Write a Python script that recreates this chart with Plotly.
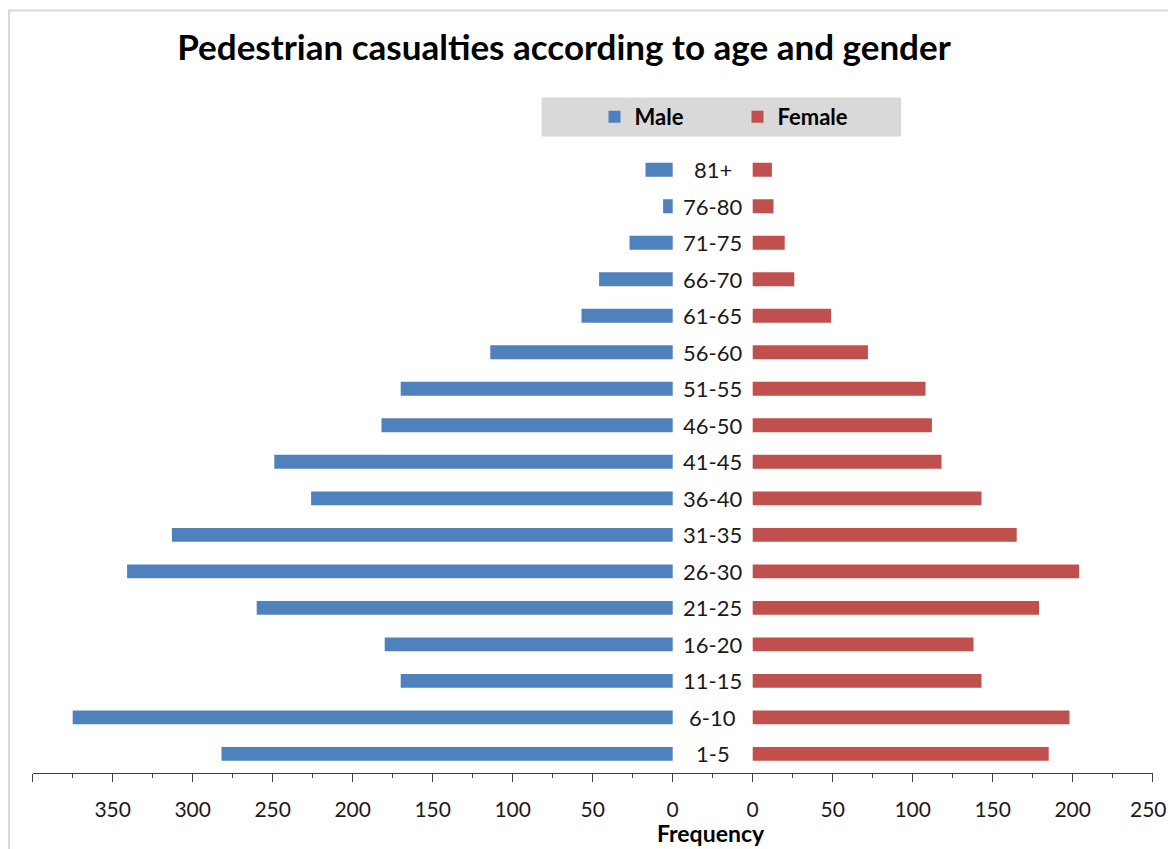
import plotly.graph_objects as go

# Age bands, bottom to top
age_groups = ["1-5", "6-10", "11-15", "16-20", "21-25", "26-30", "31-35", "36-40",
              "41-45", "46-50", "51-55", "56-60", "61-65", "66-70", "71-75", "76-80", "81+"]
male = [282, 375, 170, 180, 260, 341, 313, 226, 249, 182, 170, 114, 57, 46, 27, 6, 17]
female = [185, 198, 143, 138, 179, 204, 165, 143, 118, 112, 108, 72, 49, 26, 20, 13, 12]

male_ticks = [0, 50, 100, 150, 200, 250, 300, 350, 400]
male_ticktext = ["0", "50", "100", "150", "200", "250", "300", "350", ""]
female_ticks = [0, 50, 100, 150, 200, 250]
# the last female tick label sits at the figure's right edge and is drawn separately
female_ticktext = ["0", "50", "100", "150", "200", ""]

BLUE = "#4f81bd"
RED = "#c0504d"
AXIS = "#404040"
FONT = "Lato"
TICK_FONT = dict(family=FONT, size=21, color="#1a1a1a")

W, H = 1168, 849
px = lambda v: v / W
py = lambda v: 1 - v / H

fig = go.Figure()
fig.add_trace(go.Bar(
    x=male, y=age_groups, orientation="h", name="Male",
    marker=dict(color=BLUE, line=dict(width=0)), width=0.38,
    xaxis="x", yaxis="y", hoverinfo="x+y",
))
fig.add_trace(go.Bar(
    x=female, y=age_groups, orientation="h", name="Female",
    marker=dict(color=RED, line=dict(width=0)), width=0.38,
    xaxis="x2", yaxis="y2", hoverinfo="x+y",
))

x_common = dict(
    showline=True, linecolor=AXIS, linewidth=1,
    ticks="outside", ticklen=8, tickwidth=1, tickcolor=AXIS,
    showgrid=False, zeroline=False, automargin=False,
    tickfont=TICK_FONT,
    ticklabelstandoff=10, ticklabeloverflow="allow",
    minor=dict(dtick=25, tick0=0, ticks="outside", ticklen=4, tickcolor=AXIS, showgrid=False),
    fixedrange=True,
)
y_common = dict(
    type="category", categoryorder="array", categoryarray=age_groups,
    range=[-0.515, 16.6], domain=[py(772.7), py(147.8)],
    showticklabels=False, showline=False, showgrid=False, zeroline=False, ticks="",
    automargin=False, fixedrange=True,
)

fig.update_layout(
    width=W, height=H,
    margin=dict(l=0, r=0, t=0, b=0, autoexpand=False),
    paper_bgcolor="white", plot_bgcolor="white",
    showlegend=True,
    xaxis=dict(domain=[px(32.7), px(712.7)], range=[400, -25],
               tickmode="array", tickvals=male_ticks, ticktext=male_ticktext, **x_common),
    xaxis2=dict(domain=[px(712.7), px(1152.7)], range=[-25, 250],
                tickmode="array", tickvals=female_ticks, ticktext=female_ticktext, **x_common),
    yaxis=dict(anchor="x", **y_common),
    yaxis2=dict(anchor="x2", **y_common),
    title=dict(
        text="Pedestrian casualties according to age and gender",
        x=px(564), xanchor="center", y=py(48), yanchor="middle", yref="container",
        font=dict(family=FONT, size=35, color="black", weight="bold"),
    ),
    legend=dict(
        orientation="h", x=px(594.5), xanchor="left", y=py(117), yanchor="middle",
        bgcolor="rgba(0,0,0,0)", borderwidth=0,
        font=dict(family=FONT, size=22, color="black", weight="bold"),
        entrywidth=98, entrywidthmode="pixels",
        itemclick=False, itemdoubleclick=False,
    ),
    shapes=[
        # outer chart frame
        dict(type="rect", xref="paper", yref="paper",
             x0=px(9), x1=1.02, y0=-0.02, y1=py(10.5),
             line=dict(color="#d9d9d9", width=2), fillcolor="rgba(0,0,0,0)", layer="below"),
        # legend background
        dict(type="rect", xref="paper", yref="paper",
             x0=px(541.5), x1=px(901), y0=py(136.5), y1=py(97.5),
             line=dict(width=0), fillcolor="#d9d9d9", layer="below"),
    ],
)

annotations = []
for g in age_groups:
    annotations.append(dict(
        text=g, x=px(712.7), xref="paper", xanchor="center",
        y=g, yref="y", yanchor="middle", showarrow=False,
        font=dict(family=FONT, size=22, color="#1a1a1a"),
    ))
# final female tick label, nudged left so it stays inside the figure
annotations.append(dict(
    text=str(female_ticks[-1]), x=female_ticks[-1], xref="x2", xanchor="center", xshift=-4,
    y=py(808), yref="paper", yanchor="middle", showarrow=False,
    font=TICK_FONT,
))
annotations.append(dict(
    text="Frequency", x=px(711), xref="paper", xanchor="center",
    y=py(833), yref="paper", yanchor="middle", showarrow=False,
    font=dict(family=FONT, size=23, color="black", weight="bold"),
))
fig.update_layout(annotations=annotations)

fig.write_html("out.html")
